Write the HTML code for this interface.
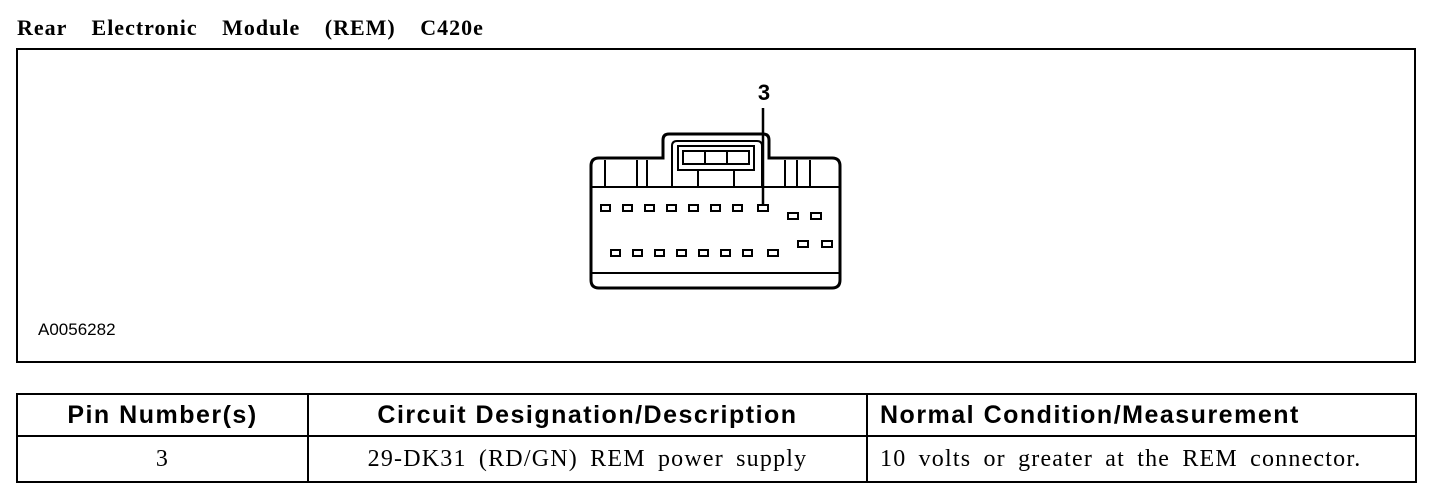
<!DOCTYPE html>
<html><head><style>
body{margin:0;width:1456px;height:502px;background:#fff;position:relative;overflow:hidden}
.t{position:absolute;left:17px;top:15px;font:bold 22px "Liberation Serif",serif;color:#000;letter-spacing:1px;word-spacing:18px;white-space:nowrap}
.box{position:absolute;left:16px;top:48px;width:1396px;height:311px;border:2px solid #000}
.code{position:absolute;left:38px;top:320px;font:17px "Liberation Sans",sans-serif}
table{position:absolute;left:16px;top:393px;width:1401px;border-collapse:collapse;}
th{border:2px solid #000;font:bold 25px "Liberation Sans",sans-serif;letter-spacing:1.5px;height:40px;padding:0;white-space:nowrap}
td{border:2px solid #000;text-align:center;padding:0;font:24px "Liberation Serif",serif;height:44px;letter-spacing:1.2px;word-spacing:5px;white-space:nowrap}
.l{text-align:left;padding-left:12px}
</style></head><body>
<div class="t">Rear Electronic Module (REM) C420e</div>
<div class="box"></div>
<div class="code">A0056282</div>
<svg style="position:absolute;left:0;top:0" width="1456" height="370">
<g fill="none" stroke="#000" stroke-width="3">
<path d="M599 158 H663 V140 Q663 134 669 134 H763 Q769 134 769 140 V158 H832 Q840 158 840 166 V280 Q840 288 832 288 H599 Q591 288 591 280 V166 Q591 158 599 158 Z"/>
<path d="M672 186 V146 Q672 141 677 141 H757 Q762 141 762 146 V186" stroke-width="2"/>
<rect x="678" y="146" width="76" height="24" stroke-width="2"/>
<rect x="683" y="151" width="66" height="13" stroke-width="2"/>
<path d="M705 151 V164 M727 151 V164 M698 170 V186 M734 170 V186" stroke-width="2"/>
<path d="M591 187 H840 M591 273 H840" stroke-width="2"/>
<path d="M605 160 V187 M637 160 V187 M647 160 V187 M785 160 V187 M797 160 V187 M810 160 V187" stroke-width="2"/>
<path d="M763 108 V205" stroke-width="2.5"/>
</g>
<g fill="none" stroke="#000" stroke-width="2">
<rect x="601" y="205" width="9" height="6"/><rect x="623" y="205" width="9" height="6"/><rect x="645" y="205" width="9" height="6"/><rect x="667" y="205" width="9" height="6"/><rect x="689" y="205" width="9" height="6"/><rect x="711" y="205" width="9" height="6"/><rect x="733" y="205" width="9" height="6"/><rect x="758" y="205" width="10" height="6"/>
<rect x="788" y="213" width="10" height="6"/><rect x="811" y="213" width="10" height="6"/>
<rect x="798" y="241" width="10" height="6"/><rect x="822" y="241" width="10" height="6"/>
<rect x="611" y="250" width="9" height="6"/><rect x="633" y="250" width="9" height="6"/><rect x="655" y="250" width="9" height="6"/><rect x="677" y="250" width="9" height="6"/><rect x="699" y="250" width="9" height="6"/><rect x="721" y="250" width="9" height="6"/><rect x="743" y="250" width="9" height="6"/><rect x="768" y="250" width="10" height="6"/>
</g>
<text x="764" y="100" text-anchor="middle" font-family="Liberation Sans" font-weight="bold" font-size="22">3</text>
</svg>
<table>
<tr><th style="width:289px">Pin Number(s)</th><th style="width:557px">Circuit Designation/Description</th><th class="l">Normal Condition/Measurement</th></tr>
<tr><td>3</td><td>29-DK31 (RD/GN) REM power supply</td><td class="l">10 volts or greater at the REM connector.</td></tr>
</table>
</body></html>
